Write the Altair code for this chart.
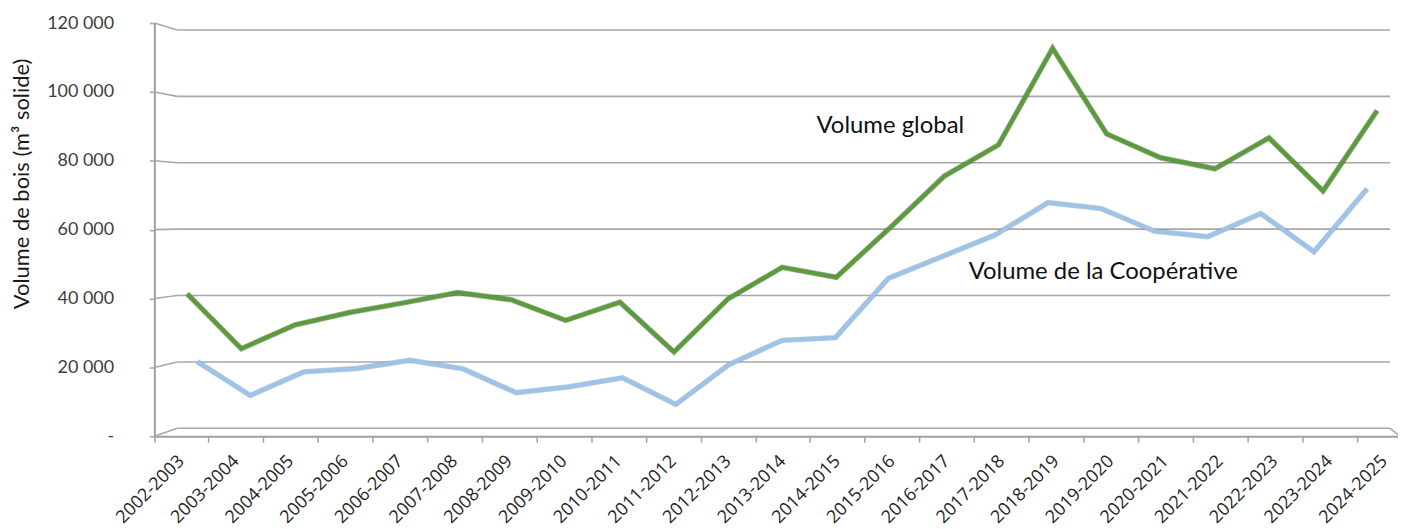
import altair as alt
import pandas as pd

# ---------------- data ----------------
seasons = [
    "2002-2003", "2003-2004", "2004-2005", "2005-2006", "2006-2007", "2007-2008",
    "2008-2009", "2009-2010", "2010-2011", "2011-2012", "2012-2013", "2013-2014",
    "2014-2015", "2015-2016", "2016-2017", "2017-2018", "2018-2019", "2019-2020",
    "2020-2021", "2021-2022", "2022-2023", "2023-2024", "2024-2025",
]
volume_global = [
    40500, 24000, 31200, 34900, 37800, 40900, 38700, 32500, 38000, 23000, 39000, 48500,
    45500, 60500, 76000, 85400, 114500, 88700, 81500, 78200, 87500, 71500, 95700,
]
volume_coop = [
    20100, 9900, 17000, 18000, 20500, 17900, 10700, 12500, 15200, 7200, 19200, 26500,
    27300, 45200, 51700, 58200, 68000, 66200, 59400, 57700, 64700, 53200, 72200,
]
grid_values = [0, 20000, 40000, 60000, 80000, 100000, 120000]

label_global = ["Volume global"]
label_global_season = ["2015-2016"]
label_global_value = [91000]
label_coop = ["Volume de la Coopérative"]
label_coop_season = ["2019-2020"]
label_coop_value = [47100]

# ---------------- layout ----------------
W, H = 1241, 415
DEPTH_X, DEPTH_Y = 23, 8
BACK_TOP = 7

df = pd.DataFrame({"saison": seasons, "global": volume_global, "coop": volume_coop})
grid_df = pd.DataFrame({"v": grid_values})
lab_g = pd.DataFrame({"t": label_global, "saison": label_global_season, "v": label_global_value})
lab_c = pd.DataFrame({"t": label_coop, "saison": label_coop_season, "v": label_coop_value})

GRID = "#a8a8a8"

y_front = alt.Scale(domain=[0, 120000], range=[H, 0], nice=False, zero=False)
y_back = alt.Scale(domain=[0, 120000], range=[H - DEPTH_Y, BACK_TOP], nice=False, zero=False)
x_band = alt.Scale(type="band", domain=seasons, range=[0, 1263], paddingInner=0, paddingOuter=0)
x_green = alt.Scale(type="point", domain=seasons, range=[33, 1228], padding=0)
x_blue = alt.Scale(type="point", domain=seasons, range=[43, 1218], padding=0)

back_span = H - DEPTH_Y - BACK_TOP  # 400 px for the back wall
connect_expr = f"datum.v * {back_span / H} + {DEPTH_Y * 120000 / H}"

connectors = (
    alt.Chart(grid_df)
    .transform_calculate(vb=connect_expr)
    .mark_rule(color=GRID, strokeWidth=1.6)
    .encode(
        x=alt.value(0),
        x2=alt.value(DEPTH_X),
        y=alt.Y(
            "v:Q",
            scale=y_front,
            axis=alt.Axis(
                orient="left",
                values=grid_values,
                grid=False,
                labelExpr="datum.value == 0 ? '-' : replace(format(datum.value, ','), ',', ' ')",
                labelFont="Lato",
                labelFontSize=18,
                labelColor="#404040",
                labelPadding=36,
                tickSize=5,
                tickColor=GRID,
                tickWidth=1.6,
                domainColor="#a0a0a0",
                domainWidth=2,
                title="Volume de bois (m³ solide)",
                titleFont="Lato",
                titleFontSize=22,
                titleFontWeight="normal",
                titleColor="#1a1a1a",
                titleAngle=270,
                titleX=-133,
                titleY=161,
                titleAlign="center",
                titleBaseline="middle",
            ),
        ),
        y2="vb:Q",
    )
)

gridlines = (
    alt.Chart(grid_df)
    .mark_rule(color=GRID, strokeWidth=1.6)
    .encode(
        x=alt.value(DEPTH_X),
        x2=alt.value(W),
        y=alt.Y("v:Q", scale=y_back, axis=None),
    )
)

floor_right = (
    alt.Chart(grid_df)
    .transform_filter("datum.v == 0")
    .mark_rule(color=GRID, strokeWidth=1.6)
    .encode(
        x=alt.value(W),
        x2=alt.value(W + 10),
        y=alt.value(H - DEPTH_Y),
        y2=alt.value(H),
    )
)

xaxis = (
    alt.Chart(df)
    .mark_rule(opacity=0)
    .encode(
        x=alt.X(
            "saison:N",
            sort=seasons,
            scale=x_band,
            axis=alt.Axis(
                title=None,
                bandPosition=0,
                labelAngle=-45,
                labelAlign="right",
                labelBaseline="middle",
                labelFont="Open Sans",
                labelFontSize=18,
                labelColor="#262626",
                labelPadding=16,
                tickSize=6,
                tickColor=GRID,
                tickWidth=1.6,
                domainColor="#a0a0a0",
                domainWidth=2,
                grid=False,
            ),
        )
    )
)


def series(field, xscale, color, edge):
    base = alt.Chart(df).encode(
        x=alt.X("saison:N", sort=seasons, scale=xscale, axis=None),
        y=alt.Y(f"{field}:Q", scale=y_back, axis=None),
    )
    under = base.mark_line(color=edge, strokeWidth=5.5, opacity=0.45, strokeJoin="miter")
    top = base.mark_line(color=color, strokeWidth=4, strokeJoin="miter")
    return under, top


coop_under, coop_line = series("coop", x_blue, "#9cc3e9", "#6f88a3")
glob_under, glob_line = series("global", x_green, "#5a9c3a", "#2b4420")

text_g = (
    alt.Chart(lab_g)
    .mark_text(font="Lato", fontSize=24, color="#111111", align="center", baseline="middle")
    .encode(
        x=alt.X("saison:N", sort=seasons, scale=x_green, axis=None),
        y=alt.Y("v:Q", scale=y_back, axis=None),
        text="t:N",
    )
)
text_c = (
    alt.Chart(lab_c)
    .mark_text(font="Lato", fontSize=24, color="#111111", align="center", baseline="middle", dx=2)
    .encode(
        x=alt.X("saison:N", sort=seasons, scale=x_blue, axis=None),
        y=alt.Y("v:Q", scale=y_back, axis=None),
        text="t:N",
    )
)

chart = (
    alt.layer(
        connectors, gridlines, floor_right, xaxis,
        coop_under, coop_line, glob_under, glob_line,
        text_g, text_c,
    )
    .resolve_scale(x="independent", y="independent")
    .properties(
        width=W,
        height=H,
        padding={"left": 147, "top": 14, "right": 8, "bottom": 90},
        autosize=alt.AutoSizeParams(type="none"),
        background="white",
    )
    .configure_view(stroke=None)
)

chart.save("out.html", embed_options={"renderer": "svg", "actions": False})
